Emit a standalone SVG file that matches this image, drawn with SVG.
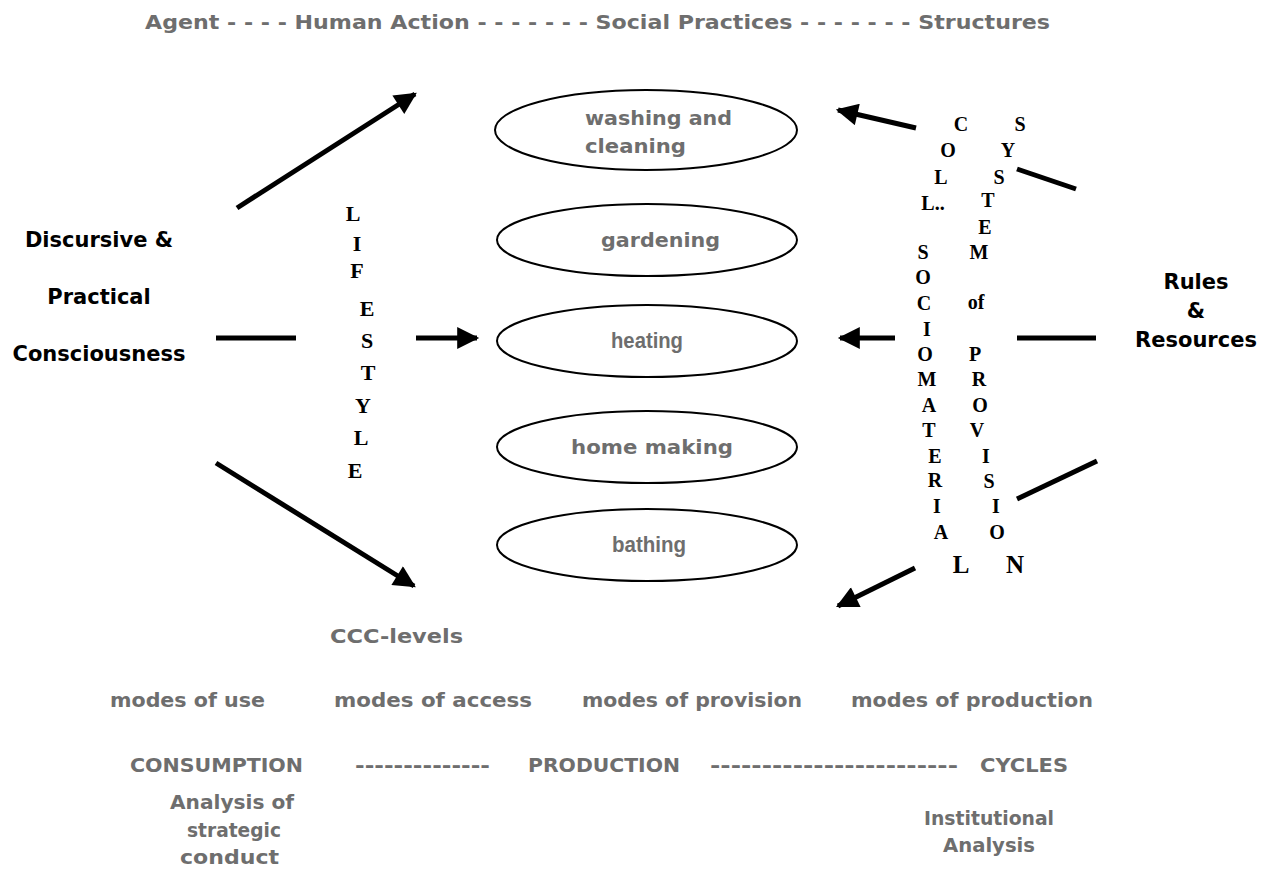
<svg xmlns="http://www.w3.org/2000/svg" width="1273" height="877" viewBox="0 0 1273 877">
<style>
.g{font-family:"DejaVu Sans","Liberation Sans",sans-serif;font-weight:bold;font-size:20px;fill:#6e6e6e}
.gl{font-family:"Liberation Sans","DejaVu Sans",sans-serif;font-weight:bold;font-size:22px;fill:#6e6e6e}
.b{font-family:"DejaVu Sans","Liberation Sans",sans-serif;font-weight:bold;font-size:21px;fill:#000}
.s{font-family:"Liberation Serif","DejaVu Serif",serif;font-weight:bold;font-size:20px;fill:#000;text-anchor:middle}
.lf{font-family:"Liberation Serif","DejaVu Serif",serif;font-weight:bold;font-size:22px;fill:#000;text-anchor:middle}
.e{fill:#fff;stroke:#000;stroke-width:2}
.ln{stroke:#000;stroke-width:5;fill:none}
</style>
<defs>
<marker id="ah" viewBox="0 0 10 10" refX="9" refY="5" markerWidth="4.8" markerHeight="4.4" markerUnits="strokeWidth" orient="auto">
<path d="M0,0 L10,5 L0,10 Z" fill="#000"/>
</marker>
</defs>
<rect width="1273" height="877" fill="#fff"/>
<g id="title"><text class="g" x="145" y="29" textLength="905" lengthAdjust="spacingAndGlyphs">Agent -  - - - Human Action - - - - - - - Social Practices - - - - - - - Structures</text></g>
<g id="consciousness">
<text class="b" x="99" y="247" text-anchor="middle">Discursive &amp;</text>
<text class="b" x="99" y="304" text-anchor="middle">Practical</text>
<text class="b" x="99" y="361" text-anchor="middle">Consciousness</text>
</g>
<g id="rules">
<text class="b" x="1196" y="289" text-anchor="middle">Rules</text>
<text class="b" x="1196" y="318" text-anchor="middle">&amp;</text>
<text class="b" x="1196" y="347" text-anchor="middle">Resources</text>
</g>
<g id="lifestyle">
<text class="lf" x="353" y="221">L</text>
<text class="lf" x="357" y="251">I</text>
<text class="lf" x="357" y="278">F</text>
<text class="lf" x="367" y="316">E</text>
<text class="lf" x="367" y="348">S</text>
<text class="lf" x="368" y="380">T</text>
<text class="lf" x="363" y="413">Y</text>
<text class="lf" x="361" y="445">L</text>
<text class="lf" x="355" y="478">E</text>
</g>
<g id="washing"><ellipse class="e" cx="646" cy="130" rx="151" ry="40"/>
<text class="g" x="585" y="125" textLength="147" lengthAdjust="spacingAndGlyphs">washing and</text>
<text class="g" x="585" y="153" textLength="101" lengthAdjust="spacingAndGlyphs">cleaning</text></g>
<g id="gardening"><ellipse class="e" cx="647" cy="240" rx="150" ry="36"/>
<text class="g" x="601" y="247" textLength="119" lengthAdjust="spacingAndGlyphs">gardening</text></g>
<g id="heating"><ellipse class="e" cx="647" cy="341" rx="150" ry="36"/>
<text class="gl" x="611" y="348" textLength="72" lengthAdjust="spacingAndGlyphs">heating</text></g>
<g id="homemaking"><ellipse class="e" cx="647" cy="447" rx="150" ry="36"/>
<text class="g" x="571" y="454" textLength="162" lengthAdjust="spacingAndGlyphs">home making</text></g>
<g id="bathing"><ellipse class="e" cx="647" cy="545" rx="150" ry="36"/>
<text class="gl" x="612" y="552" textLength="74" lengthAdjust="spacingAndGlyphs">bathing</text></g>
<g id="system">
<text class="s" x="961" y="131">C</text>
<text class="s" x="948" y="157">O</text>
<text class="s" x="941" y="184">L</text>
<text class="s" x="933" y="210">L..</text>
<text class="s" x="923" y="259">S</text>
<text class="s" x="923" y="284">O</text>
<text class="s" x="924" y="310">C</text>
<text class="s" x="927" y="336">I</text>
<text class="s" x="925" y="361">O</text>
<text class="s" x="927" y="386">M</text>
<text class="s" x="929" y="412">A</text>
<text class="s" x="929" y="437">T</text>
<text class="s" x="935" y="463">E</text>
<text class="s" x="935" y="487">R</text>
<text class="s" x="937" y="513">I</text>
<text class="s" x="941" y="539">A</text>
<text class="s" x="961" y="573" style="font-size:25px">L</text>
<text class="s" x="1020" y="131">S</text>
<text class="s" x="1008" y="157">Y</text>
<text class="s" x="999" y="184">S</text>
<text class="s" x="988" y="207">T</text>
<text class="s" x="985" y="234">E</text>
<text class="s" x="979" y="259">M</text>
<text class="s" x="976" y="309">of</text>
<text class="s" x="975" y="361">P</text>
<text class="s" x="979" y="386">R</text>
<text class="s" x="980" y="412">O</text>
<text class="s" x="977" y="437">V</text>
<text class="s" x="986" y="463">I</text>
<text class="s" x="989" y="488">S</text>
<text class="s" x="996" y="513">I</text>
<text class="s" x="997" y="539">O</text>
<text class="s" x="1015" y="573" style="font-size:25px">N</text>
</g>
<g id="connectors">
<line class="ln" x1="237" y1="208" x2="415" y2="94" marker-end="url(#ah)"/>
<line class="ln" x1="216" y1="338" x2="296" y2="338"/>
<line class="ln" x1="416" y1="338" x2="477" y2="338" marker-end="url(#ah)"/>
<line class="ln" x1="216" y1="463" x2="414" y2="586" marker-end="url(#ah)"/>
<line class="ln" x1="916" y1="128" x2="838" y2="110" marker-end="url(#ah)"/>
<line class="ln" x1="1017" y1="169" x2="1076" y2="189"/>
<line class="ln" x1="895" y1="338" x2="840" y2="338" marker-end="url(#ah)"/>
<line class="ln" x1="1017" y1="338" x2="1096" y2="338"/>
<line class="ln" x1="1017" y1="499" x2="1097" y2="461"/>
<line class="ln" x1="915" y1="568" x2="838" y2="606" marker-end="url(#ah)"/>
</g>
<g id="bottom">
<text class="g" x="330" y="643" textLength="133" lengthAdjust="spacingAndGlyphs">CCC-levels</text>
<text class="g" x="110" y="707" textLength="155" lengthAdjust="spacingAndGlyphs">modes of use</text>
<text class="g" x="334" y="707" textLength="198" lengthAdjust="spacingAndGlyphs">modes of access</text>
<text class="g" x="582" y="707" textLength="220" lengthAdjust="spacingAndGlyphs">modes of provision</text>
<text class="g" x="851" y="707" textLength="242" lengthAdjust="spacingAndGlyphs">modes of production</text>
<text class="g" x="130" y="772" textLength="173" lengthAdjust="spacingAndGlyphs">CONSUMPTION</text>
<text class="g" x="355" y="772" textLength="135" lengthAdjust="spacingAndGlyphs">--------------</text>
<text class="g" x="528" y="772" textLength="152" lengthAdjust="spacingAndGlyphs">PRODUCTION</text>
<text class="g" x="710" y="772" textLength="248" lengthAdjust="spacingAndGlyphs">------------------------</text>
<text class="g" x="980" y="772" textLength="88" lengthAdjust="spacingAndGlyphs">CYCLES</text>
<text class="g" x="170" y="809" textLength="124" lengthAdjust="spacingAndGlyphs">Analysis of</text>
<text class="g" x="187" y="837" textLength="94" lengthAdjust="spacingAndGlyphs">strategic</text>
<text class="g" x="180" y="864" textLength="99" lengthAdjust="spacingAndGlyphs">conduct</text>
<text class="g" x="924" y="825" textLength="130" lengthAdjust="spacingAndGlyphs">Institutional</text>
<text class="g" x="943" y="852" textLength="92" lengthAdjust="spacingAndGlyphs">Analysis</text>
</g>
</svg>
